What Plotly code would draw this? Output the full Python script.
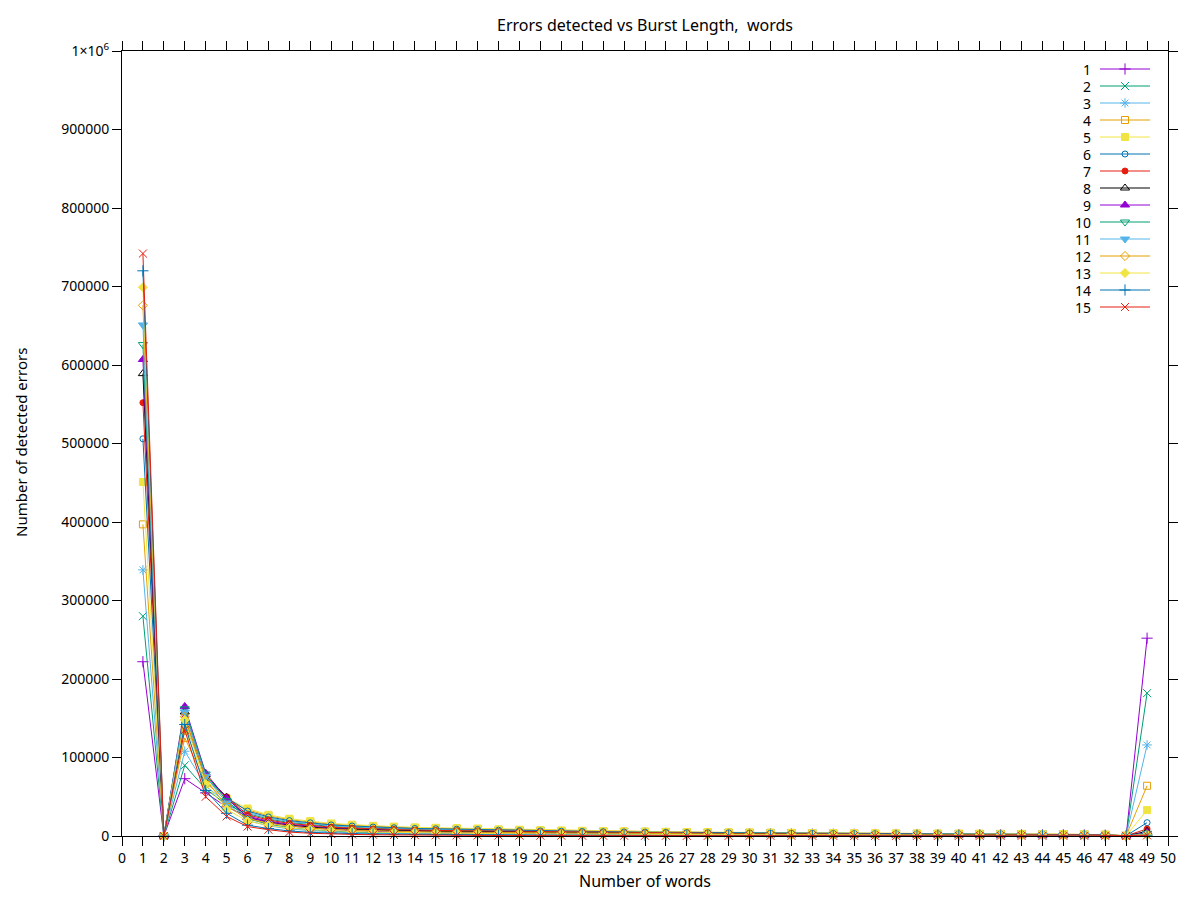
import plotly.graph_objects as go

burst_len = list(range(1, 50))
series_names = [str(i) for i in range(1, 16)]

s1 = [222000, 0, 73000, 55000, 37000, 25300, 19000, 14900, 12500, 10300, 9300, 8200, 7500, 6800, 6500, 6100, 5800, 5200, 4900, 4500, 4200, 4000, 3800, 3600, 3400, 3200, 3000, 2900, 2800, 2700, 2600, 2400, 2300, 2200, 2100, 2000, 1900, 1900, 1800, 1800, 1700, 1700, 1600, 1500, 1500, 1300, 1100, 200, 252000]
s2 = [280000, 0, 90000, 60000, 40000, 28600, 21700, 17200, 14700, 12200, 11000, 9800, 9000, 8200, 7800, 7400, 7000, 6300, 5900, 5500, 5200, 4900, 4600, 4400, 4200, 4000, 3700, 3600, 3400, 3300, 3100, 3000, 2900, 2700, 2600, 2500, 2400, 2300, 2300, 2200, 2100, 2000, 2000, 1900, 1800, 1600, 1300, 300, 182000]
s3 = [339000, 0, 108000, 64000, 42000, 30200, 23000, 18400, 15700, 13200, 11900, 10600, 9800, 8900, 8500, 8100, 7600, 6800, 6400, 6000, 5600, 5400, 5000, 4800, 4600, 4300, 4100, 3900, 3800, 3600, 3400, 3300, 3100, 3000, 2800, 2700, 2600, 2500, 2500, 2400, 2300, 2200, 2200, 2100, 2000, 1800, 1400, 300, 116000]
s4 = [397000, 0, 125000, 68000, 45000, 33400, 25700, 20800, 17900, 15100, 13600, 12200, 11300, 10300, 9800, 9400, 8900, 7900, 7500, 7000, 6500, 6200, 5900, 5600, 5300, 5000, 4800, 4600, 4400, 4200, 4000, 3800, 3600, 3400, 3300, 3200, 3100, 3000, 2900, 2800, 2700, 2600, 2500, 2400, 2300, 2000, 1700, 400, 64000]
s5 = [451000, 0, 135000, 71000, 48000, 35000, 27000, 22000, 19000, 16000, 14500, 13000, 12000, 11000, 10500, 10000, 9500, 8500, 8000, 7500, 7000, 6700, 6300, 6000, 5700, 5400, 5100, 4900, 4700, 4500, 4300, 4100, 3900, 3700, 3500, 3400, 3300, 3200, 3100, 3000, 2900, 2800, 2700, 2600, 2500, 2200, 1800, 400, 33000]
s6 = [506000, 0, 145000, 74000, 49000, 31800, 24300, 19600, 16800, 14100, 12700, 11400, 10500, 9600, 9200, 8700, 8300, 7400, 6900, 6500, 6100, 5800, 5500, 5200, 4900, 4700, 4400, 4200, 4100, 3900, 3700, 3500, 3400, 3200, 3000, 2900, 2800, 2700, 2700, 2600, 2500, 2400, 2300, 2200, 2200, 1900, 1500, 300, 17000]
s7 = [552000, 0, 150000, 76000, 50000, 27000, 20400, 16000, 13600, 11300, 10100, 9000, 8300, 7500, 7100, 6800, 6400, 5700, 5400, 5000, 4700, 4500, 4200, 4000, 3800, 3600, 3400, 3300, 3100, 3000, 2800, 2700, 2600, 2500, 2300, 2200, 2200, 2100, 2000, 2000, 1900, 1900, 1800, 1700, 1700, 1500, 1200, 300, 9000]
s8 = [589000, 0, 158000, 78000, 49000, 23700, 17700, 13700, 11400, 9400, 8400, 7400, 6800, 6200, 5800, 5500, 5200, 4600, 4300, 4000, 3800, 3600, 3400, 3200, 3000, 2900, 2700, 2600, 2500, 2400, 2300, 2200, 2100, 2000, 1800, 1800, 1700, 1700, 1600, 1600, 1500, 1500, 1400, 1400, 1300, 1200, 1000, 200, 6000]
s9 = [607000, 0, 165000, 80000, 48000, 24000, 17500, 13000, 10200, 8000, 6600, 5800, 5300, 4800, 4500, 4200, 4000, 3500, 3300, 3100, 2800, 2700, 2500, 2400, 2300, 2200, 2000, 1900, 1900, 1800, 1700, 1600, 1500, 1500, 1400, 1300, 1300, 1200, 1200, 1200, 1100, 1100, 1100, 1000, 1000, 900, 700, 100, 4500]
s10 = [626000, 0, 162000, 79000, 45000, 22000, 15000, 10500, 8000, 6200, 4900, 4200, 3800, 3400, 3100, 2900, 2700, 2400, 2200, 2100, 1900, 1800, 1700, 1600, 1500, 1400, 1300, 1300, 1200, 1200, 1100, 1100, 1000, 1000, 900, 900, 800, 800, 800, 800, 700, 700, 700, 700, 700, 600, 500, 100, 3500]
s11 = [651000, 0, 158000, 76000, 42000, 19500, 13000, 9000, 6800, 5200, 4000, 3400, 3000, 2700, 2400, 2300, 2100, 1900, 1700, 1600, 1500, 1400, 1300, 1200, 1100, 1100, 1000, 1000, 900, 900, 800, 800, 800, 700, 600, 600, 600, 600, 600, 600, 500, 500, 500, 500, 500, 400, 400, 100, 2500]
s12 = [676000, 0, 152000, 72000, 38000, 22100, 16400, 12500, 10300, 8400, 7500, 6600, 6000, 5500, 5100, 4900, 4600, 4100, 3800, 3600, 3300, 3100, 2900, 2800, 2600, 2500, 2400, 2300, 2200, 2100, 2000, 1900, 1800, 1700, 1600, 1500, 1500, 1500, 1400, 1400, 1300, 1300, 1200, 1200, 1200, 1000, 800, 200, 2000]
s13 = [699000, 0, 148000, 66000, 34000, 18900, 13700, 10100, 8200, 6600, 5800, 5000, 4500, 4100, 3800, 3600, 3300, 3000, 2800, 2600, 2400, 2300, 2100, 2000, 1900, 1800, 1700, 1600, 1600, 1500, 1400, 1300, 1300, 1200, 1100, 1100, 1100, 1000, 1000, 1000, 900, 900, 900, 900, 800, 700, 600, 100, 1500]
s14 = [720000, 0, 142000, 58000, 29000, 13800, 9500, 6400, 4700, 3600, 3000, 2500, 2200, 1900, 1700, 1500, 1400, 1200, 1100, 1000, 900, 900, 800, 800, 700, 700, 600, 600, 600, 500, 500, 500, 500, 400, 400, 400, 400, 300, 300, 300, 300, 300, 300, 300, 300, 300, 200, 0, 1000]
s15 = [742000, 0, 135000, 50000, 25000, 12000, 8000, 5000, 3500, 2500, 2000, 1600, 1300, 1100, 900, 800, 700, 600, 500, 450, 400, 350, 300, 300, 250, 250, 200, 200, 200, 200, 150, 150, 150, 150, 100, 100, 100, 100, 100, 100, 100, 100, 100, 100, 100, 100, 100, 0, 800]

all_series = [s1, s2, s3, s4, s5, s6, s7, s8, s9, s10, s11, s12, s13, s14, s15]

x_ticks = list(range(0, 51))
y_tickvals = [0, 100000, 200000, 300000, 400000, 500000, 600000, 700000, 800000, 900000, 1000000]
y_ticktext = ["0", "100000", "200000", "300000", "400000", "500000", "600000",
              "700000", "800000", "900000", "1×10<sup>6</sup>"]

palette = ["#9400d3", "#009e73", "#56b4e9", "#e69f00", "#f0e442", "#0072b2", "#e51e10", "#000000"]
symbols = ["cross-thin-open", "x-thin-open", "asterisk-open", "square-open", "square",
           "circle-open", "circle", "triangle-up-open", "triangle-up", "triangle-down-open",
           "triangle-down", "diamond-open", "diamond", "cross-thin-open", "x-thin-open"]
sizes = [8, 8, 8, 7, 7, 6, 6, 8, 8, 8, 8, 7, 7, 8, 8]

FONT = "Noto Sans"
FS = 14
FS_TITLE = 16

# page-pixel geometry of the plot area (page has an 8px body offset)
PX_L, PX_R, PX_T, PX_B = 122, 1168, 51, 836


def px_to_paper(px, py):
    return (px - PX_L) / (PX_R - PX_L), (PX_B - py) / (PX_B - PX_T)


fig = go.Figure()

for i, (name, ys) in enumerate(zip(series_names, all_series)):
    col = palette[i % 8]
    fig.add_trace(go.Scatter(
        x=burst_len, y=ys, name=name, mode="lines+markers",
        line=dict(color=col, width=1),
        marker=dict(symbol=symbols[i], size=sizes[i], color=col,
                    line=dict(color=col, width=1)),
        cliponaxis=False, showlegend=False,
    ))

# gnuplot-style key (label right-aligned, sample to its right)
annotations = []
for i, name in enumerate(series_names):
    col = palette[i % 8]
    yk = 69 + 17 * i
    fig.add_trace(go.Scatter(x=[1100, 1150], y=[yk, yk], mode="lines",
                             line=dict(color=col, width=1), xaxis="x2", yaxis="y2",
                             showlegend=False, hoverinfo="skip"))
    fig.add_trace(go.Scatter(x=[1125], y=[yk], mode="markers",
                             marker=dict(symbol=symbols[i], size=sizes[i], color=col,
                                         line=dict(color=col, width=1)),
                             xaxis="x2", yaxis="y2", showlegend=False, hoverinfo="skip",
                             cliponaxis=False))
    annotations.append(dict(x=1092, y=yk, xref="x2", yref="y2", text=name,
                            showarrow=False, xanchor="right", yanchor="middle",
                            borderpad=0,
                            font=dict(family=FONT, size=FS, color="#000")))

tx, ty = px_to_paper(645, 25)
annotations.append(dict(x=tx, y=ty, xref="paper", yref="paper",
                        text="Errors detected vs Burst Length,\u00a0 words",
                        showarrow=False, xanchor="center", yanchor="middle",
                        font=dict(family=FONT, size=FS_TITLE, color="#000")))
xx, xy = px_to_paper(645, 881)
annotations.append(dict(x=xx, y=xy, xref="paper", yref="paper", text="Number of words",
                        showarrow=False, xanchor="center", yanchor="middle",
                        font=dict(family=FONT, size=FS_TITLE, color="#000")))
yx, yy = px_to_paper(21, 443)
annotations.append(dict(x=yx, y=yy, xref="paper", yref="paper",
                        text="Number of detected errors",
                        showarrow=False, xanchor="center", yanchor="middle", textangle=-90,
                        borderpad=0,
                        font=dict(family=FONT, size=15, color="#000")))

axis_common = dict(showline=True, linecolor="#000", linewidth=1, mirror="ticks",
                   ticks="outside", ticklen=9, tickcolor="#000", tickwidth=1,
                   showgrid=False, zeroline=False,
                   tickfont=dict(family=FONT, size=FS, color="#000"))

W, H = 1184, 884
OFF = 8
fig.update_layout(
    width=W, height=H,
    paper_bgcolor="white", plot_bgcolor="white",
    margin=dict(l=PX_L - OFF, r=W - (PX_R - OFF), t=PX_T - OFF, b=H - (PX_B - OFF),
                autoexpand=False),
    xaxis=dict(range=[0, 50], tickmode="array", tickvals=x_ticks, **axis_common),
    yaxis=dict(range=[0, 1000000], tickmode="array", tickvals=y_tickvals,
               ticktext=y_ticktext, **axis_common),
    xaxis2=dict(overlaying="x", range=[PX_L, PX_R], visible=False, anchor="y2"),
    yaxis2=dict(overlaying="y", range=[PX_B, PX_T], visible=False, anchor="x2"),
    annotations=annotations,
    showlegend=False,
    font=dict(family=FONT, size=FS, color="#000"),
)

fig.write_html("out.html")
